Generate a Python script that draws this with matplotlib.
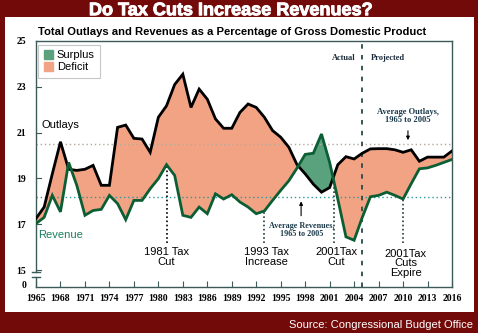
import matplotlib
matplotlib.use("Agg")
import matplotlib.pyplot as plt
import matplotlib.patheffects as pe
from matplotlib.patches import Patch, Rectangle
import numpy as np

# Federal outlays and revenues, percent of GDP (CBO actual + projected)
years = np.arange(1965, 2017)
outlays = [17.25, 17.75, 19.2, 20.6, 19.4, 19.35, 19.4, 19.57, 18.7, 18.7,
           21.23, 21.33, 20.75, 20.72, 20.14, 21.67, 22.17, 23.1, 23.55, 22.1,
           22.9, 22.46, 21.6, 21.19, 21.19, 21.88, 22.25, 22.1, 21.67, 21.09,
           20.8, 20.36, 19.6, 19.2, 18.75, 18.4, 18.6, 19.6, 19.95, 19.85,
           20.1, 20.29, 20.3, 20.3, 20.25, 20.14, 20.25, 19.75, 19.93, 19.93,
           19.93, 20.2]
revenue = [17.03, 17.3, 18.26, 17.54, 19.7, 18.7, 17.39, 17.6, 17.65, 18.26,
           17.9, 17.2, 18.04, 18.04, 18.55, 18.99, 19.6, 19.13, 17.39, 17.3,
           17.75, 17.46, 18.33, 18.1, 18.29, 17.97, 17.75, 17.46, 17.58, 18.04,
           18.48, 18.9, 19.45, 20.05, 20.1, 20.94, 19.7, 18.1, 16.45, 16.3,
           17.3, 18.2, 18.26, 18.4, 18.26, 18.1, 18.77, 19.42, 19.46, 19.57,
           19.7, 19.83]

avg_outlays = 20.5
avg_revenue = 18.17
last_actual = 2005

# (label, year of marker line, top of marker, label x, label y)
events = [
    ("1981 Tax\nCut", 1981, 19.6, 1981.0, 15.57),
    ("1993 Tax\nIncrease", 1993, 17.58, 1993.3, 15.57),
    ("2001Tax\nCut", 2001.5, 18.7, 2001.8, 15.57),
    ("2001Tax\nCuts\nExpire", 2010, 18.1, 2010.3, 15.3),
]

BG = "#720a0a"
SALMON = "#f2a383"
GREEN_FILL = "#5aa27e"
GREEN_LINE = "#0b5e34"
FRAME = "#3d5a5a"
SANS = "Liberation Sans"
SERIF = "Liberation Serif"

fig = plt.figure(figsize=(4.78, 3.33), dpi=100, facecolor=BG)
fig.patches.append(Rectangle((5 / 478, 1 - 312 / 333), 469 / 478, 295 / 333,
                             transform=fig.transFigure, facecolor="white",
                             edgecolor="none", zorder=-10))

ax = fig.add_axes([36 / 478, 1 - 287 / 333, 416 / 478, 246 / 333])
ax.set_facecolor("white")
ax.set_xlim(1965, 2016)
ax.set_ylim(14.26, 25)

out = np.array(outlays)
rev = np.array(revenue)
ax.fill_between(years, rev, out, where=out >= rev, interpolate=True,
                color=SALMON, lw=0, zorder=1)
ax.fill_between(years, rev, out, where=rev > out, interpolate=True,
                color=GREEN_FILL, lw=0, zorder=1)

# reference averages
ax.axhline(avg_outlays, color="#b8a898", lw=1.0, ls=(0, (1, 2)), zorder=2)
ax.axhline(avg_revenue, color="#2a9a9a", lw=1.0, ls=(0, (1, 2)), zorder=2)

ax.plot(years, out, color="black", lw=2.0, zorder=4, solid_joinstyle="miter")
ax.plot(years, rev, color=GREEN_LINE, lw=2.0, zorder=4, solid_joinstyle="miter")

# actual / projected divider
ax.axvline(last_actual, color="#2a4a4a", lw=1.3, ls=(0, (2.5, 3.5)), zorder=3)
ax.text(last_actual - 0.8, 24.25, "Actual", ha="right", va="center",
        fontsize=6, fontweight="bold", family=SERIF, color="#1a2a3a")
ax.text(last_actual + 1.0, 24.25, "Projected", ha="left", va="center",
        fontsize=6, fontweight="bold", family=SERIF, color="#1a2a3a")

for label, yr, top, lx, ly in events:
    col = "black" if yr == 1981 else "#1f3f3f"
    ax.plot([yr, yr], [16.2, top], color=col, lw=1.2, ls=(0, (1, 1.5)), zorder=3)
    ax.text(lx, ly, label, ha="center", va="center", fontsize=8, family=SANS,
            linespacing=0.95, zorder=5)

ax.text(2010.6, 21.72, "Average Outlays,\n1965 to 2005", ha="center",
        va="center", fontsize=6.1, fontweight="bold", family=SERIF,
        color="#1a3a4a", linespacing=1.05)
ax.annotate("", xy=(2010.6, avg_outlays + 0.05), xytext=(2010.6, 21.2),
            arrowprops=dict(arrowstyle="-|>", color="black", lw=0.8,
                            mutation_scale=5))
ax.text(1997.6, 16.75, "Average Revenues,\n1965 to 2005", ha="center",
        va="center", fontsize=5.9, fontweight="bold", family=SERIF,
        color="#1a3a4a", linespacing=1.05)
ax.annotate("", xy=(1997.5, avg_revenue - 0.05), xytext=(1997.5, 17.25),
            arrowprops=dict(arrowstyle="-|>", color="black", lw=0.8,
                            mutation_scale=5))

ax.text(1965.7, 21.35, "Outlays", ha="left", va="center", fontsize=8,
        family=SANS, color="black")
ax.text(1965.3, 16.55, "Revenue", ha="left", va="center", fontsize=8,
        family=SANS, color="#1b7f5f")

leg = ax.legend(handles=[Patch(color=GREEN_FILL, label="Surplus"),
                         Patch(color=SALMON, label="Deficit")],
                loc="upper left", bbox_to_anchor=(0.005, 0.985),
                prop=dict(family=SANS, size=8), frameon=True, fancybox=False,
                handlelength=0.8, handleheight=0.8, handletextpad=0.4,
                borderpad=0.5, labelspacing=0.15, borderaxespad=0)
leg.get_frame().set_edgecolor("#b8b8b8")
leg.get_frame().set_linewidth(0.8)

# frame and ticks
for side in ("top", "right", "bottom"):
    ax.spines[side].set_color(FRAME)
    ax.spines[side].set_linewidth(1.0)
ax.spines["left"].set_visible(False)
tr = ax.get_yaxis_transform()
ax.plot([0, 0], [14.93, 25], color=FRAME, lw=1.0, transform=tr, clip_on=False)
ax.plot([0, 0], [14.26, 14.68], color=FRAME, lw=1.0, transform=tr, clip_on=False)
for yb in (14.93, 14.68):
    ax.plot([-0.009, 0.009], [yb, yb], color=FRAME, lw=1.0, transform=tr,
            clip_on=False)

yticks = [14.35, 15, 17, 19, 21, 23, 25]
ax.set_yticks(yticks)
ax.set_yticklabels(["0", "15", "17", "19", "21", "23", "25"])
ax.set_xticks(np.arange(1965, 2017, 3))
ax.tick_params(axis="both", direction="in", length=4, width=0.8, color=FRAME,
               labelsize=7)
ax.tick_params(axis="y", length=0, pad=7)
ax.tick_params(axis="x", pad=5)
for lbl in ax.get_xticklabels() + ax.get_yticklabels():
    lbl.set_family(SERIF)
    lbl.set_fontweight("bold")
for yt in [15, 17, 19, 21, 23]:
    ax.plot([0, 0.012], [yt, yt], color=FRAME, lw=0.8, transform=tr,
            clip_on=False)

fig.text(0.482, 0.968, "Do Tax Cuts Increase Revenues?", ha="center",
         va="center", fontsize=13, fontweight="bold", family=SANS,
         color="white",
         path_effects=[pe.withStroke(linewidth=0.7, foreground="white")])
fig.text(38 / 478, 1 - 32 / 333,
         "Total Outlays and Revenues as a Percentage of Gross Domestic Product",
         ha="left", va="center", fontsize=8.1, fontweight="bold", family=SANS,
         color="black")
fig.text(473 / 478, 1 - 325 / 333, "Source: Congressional Budget Office",
         ha="right", va="center", fontsize=8.0, family=SANS, color="white")

fig.savefig("out.png", dpi=100, facecolor=BG)
